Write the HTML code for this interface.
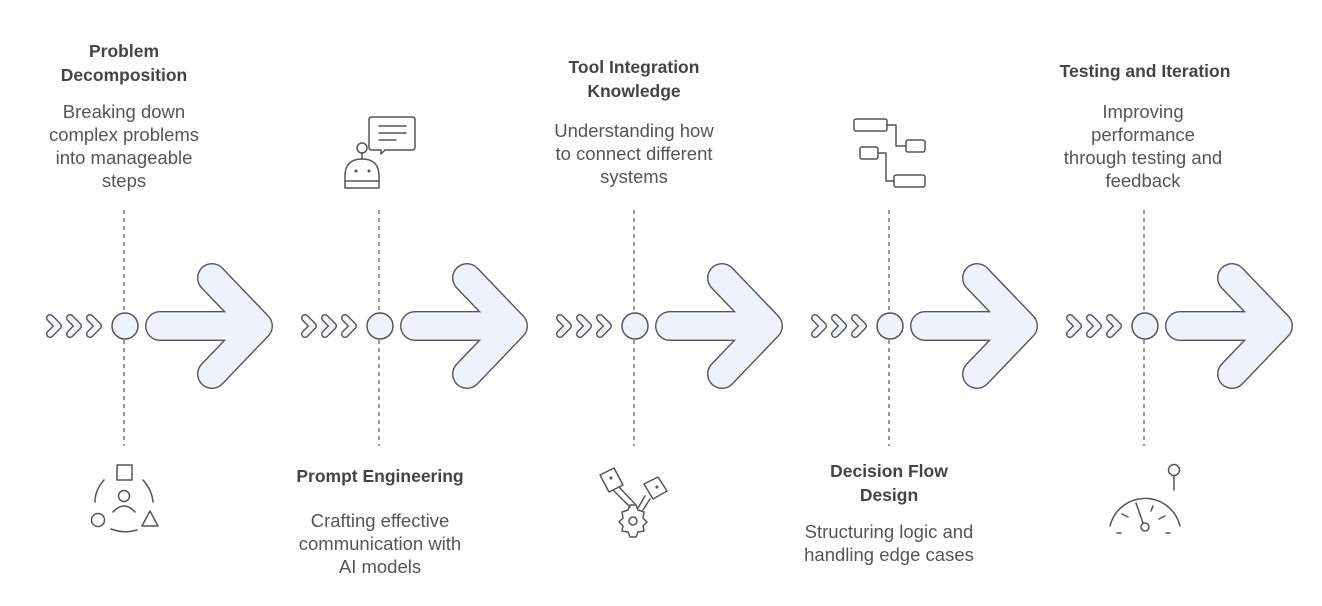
<!DOCTYPE html>
<html><head><meta charset="utf-8"><style>
html,body{margin:0;padding:0;background:#fff;}
svg{display:block;}
.t{font-family:"Liberation Sans",Arial,sans-serif;font-weight:bold;font-size:17.5px;fill:#444;text-anchor:middle;}
.d{font-family:"Liberation Sans",Arial,sans-serif;font-size:18.5px;fill:#555;text-anchor:middle;}
.ic{fill:none;stroke:#555;stroke-width:1.5;stroke-linecap:round;stroke-linejoin:round;}
</style></head><body>
<svg width="1322" height="606" viewBox="0 0 1322 606" xmlns="http://www.w3.org/2000/svg">
<defs>
<g id="seg">
  <line x1="124" y1="210" x2="124" y2="312" stroke="#555" stroke-width="1.2" stroke-dasharray="4,4"/>
  <line x1="124" y1="340" x2="124" y2="446" stroke="#555" stroke-width="1.2" stroke-dasharray="4,4"/>
  <path d="M50,318 L58,326 L50,334 M70,318 L78,326 L70,334 M90,318 L98,326 L90,334" fill="none" stroke="#555" stroke-width="8" stroke-linecap="round" stroke-linejoin="round"/>
  <path d="M50,318 L58,326 L50,334 M70,318 L78,326 L70,334 M90,318 L98,326 L90,334" fill="none" stroke="#eef2fd" stroke-width="5.2" stroke-linecap="round" stroke-linejoin="round"/>
  <path d="M212,278 L258,326 L212,374 M160,326 L258,326" fill="none" stroke="#555" stroke-width="30" stroke-linecap="round" stroke-linejoin="round"/>
  <path d="M212,278 L258,326 L212,374 M160,326 L258,326" fill="none" stroke="#eef2fd" stroke-width="27.2" stroke-linecap="round" stroke-linejoin="round"/>
  <circle cx="125" cy="326" r="13" fill="#eef2fd" stroke="#555" stroke-width="1.5"/>
</g>
</defs>
<use href="#seg"/>
<use href="#seg" x="255"/>
<use href="#seg" x="510"/>
<use href="#seg" x="765"/>
<use href="#seg" x="1020"/>

<text class="t" x="124" y="57">Problem</text>
<text class="t" x="124" y="81">Decomposition</text>
<text class="d" x="124" y="118">Breaking down</text>
<text class="d" x="124" y="141">complex problems</text>
<text class="d" x="124" y="164">into manageable</text>
<text class="d" x="124" y="187">steps</text>

<text class="t" x="380" y="482">Prompt Engineering</text>
<text class="d" x="380" y="527">Crafting effective</text>
<text class="d" x="380" y="550">communication with</text>
<text class="d" x="380" y="573">AI models</text>

<text class="t" x="634" y="73">Tool Integration</text>
<text class="t" x="634" y="97">Knowledge</text>
<text class="d" x="634" y="137">Understanding how</text>
<text class="d" x="634" y="160">to connect different</text>
<text class="d" x="634" y="183">systems</text>

<text class="t" x="889" y="477">Decision Flow</text>
<text class="t" x="889" y="501">Design</text>
<text class="d" x="889" y="538">Structuring logic and</text>
<text class="d" x="889" y="561">handling edge cases</text>

<text class="t" x="1145" y="77">Testing and Iteration</text>
<text class="d" x="1143" y="118">Improving</text>
<text class="d" x="1143" y="141">performance</text>
<text class="d" x="1143" y="164">through testing and</text>
<text class="d" x="1143" y="187">feedback</text>

<g class="ic">
  <rect x="117" y="465" width="15" height="15"/>
  <circle cx="124" cy="496" r="5.5"/>
  <path d="M113,512 Q124,500 135,512"/>
  <circle cx="98" cy="520" r="6.5"/>
  <path d="M150,511 L158,526 L142,526 Z"/>
  <path d="M104,480 Q95,490 95,502"/>
  <path d="M143,480 Q152,490 153,502"/>
  <path d="M111,529 Q124,534 137,530"/>
</g>
<g class="ic">
  <path d="M372,117 H412 Q415,117 415,120 V147 Q415,150 412,150 H385 L381,154 V150 H372 Q369,150 369,147 V120 Q369,117 372,117 Z"/>
  <line x1="379" y1="126" x2="406" y2="126"/>
  <line x1="379" y1="133" x2="406" y2="133"/>
  <line x1="379" y1="140" x2="396" y2="140"/>
  <circle cx="362" cy="148" r="5"/>
  <line x1="362" y1="153" x2="362" y2="159"/>
  <path d="M345,188 V176 Q345,159 362,159 Q379,159 379,176 V188 Z"/>
  <line x1="345" y1="181" x2="379" y2="181"/>
  <circle cx="356" cy="171" r="0.8" fill="#555"/>
  <circle cx="369" cy="171" r="0.8" fill="#555"/>
</g>
<g class="ic">
  <path d="M600,475 L614,468 L623,485 L609,492 Z"/>
  <circle cx="611" cy="478" r="0.8" fill="#555"/>
  <path d="M613,490 L630,507 M619,487 L636,505"/>
  <path d="M644,484 L658,477 L667,491 L653,499 Z"/>
  <circle cx="657" cy="487" r="0.8" fill="#555"/>
  <path d="M645,496 L638,508 M650,499 L643,510"/>
  <path d="M630,505 L636,505 L638,510 L644,512 L643,518 L647,522 L643,526 L644,531 L638,532 L636,537 L630,537 L628,532 L622,531 L623,526 L619,522 L623,518 L622,512 L628,510 Z"/>
  <circle cx="633" cy="521" r="4"/>
</g>
<g class="ic">
  <rect x="854" y="119" width="33" height="12" rx="2"/>
  <rect x="906" y="140" width="19" height="12" rx="2"/>
  <rect x="860" y="147" width="18" height="12" rx="2"/>
  <rect x="894" y="175" width="31" height="12" rx="2"/>
  <path d="M887,125 H896 V146 H906"/>
  <path d="M878,153 H886 V181 H894"/>
</g>
<g class="ic">
  <circle cx="1174" cy="470" r="5.5"/>
  <line x1="1174" y1="476" x2="1174" y2="490"/>
  <path d="M1110,526 A36,36 0 0 1 1180,526"/>
  <circle cx="1145" cy="527" r="4"/>
  <line x1="1143" y1="523" x2="1136" y2="503"/>
  <line x1="1122" y1="514" x2="1128" y2="517"/>
  <line x1="1117" y1="533" x2="1121" y2="533"/>
  <line x1="1153" y1="506" x2="1151" y2="511"/>
  <line x1="1165" y1="516" x2="1159" y2="519"/>
  <line x1="1166" y1="533" x2="1170" y2="533"/>
</g>
</svg>
</body></html>
